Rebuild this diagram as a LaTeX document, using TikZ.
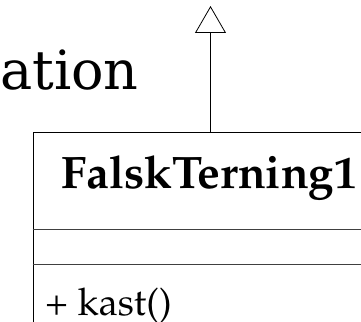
\documentclass[tikz,border=0pt]{standalone}
\usepackage{fontspec}
\usepackage[T1,TU]{fontenc}
\usepackage{xcolor}
\usetikzlibrary{positioning,arrows.meta}
\newfontfamily\labelfont{DejaVu Serif}
\newcommand\umlfont{\fontencoding{T1}\fontfamily{ppl}\selectfont}

\begin{document}
\begin{tikzpicture}[x=1pt,y=1pt,
  classbox/.style={draw=black, line width=0.8pt, rectangle, inner sep=0pt, anchor=north west},
  compline/.style={draw=black!75, line width=0.6pt},
  inherit/.style={draw=black, line width=0.8pt, -{Triangle[open,width=31pt,length=27pt]}}]
\useasboundingbox (0,0) rectangle (361,-321);
\clip (0,0) rectangle (361,-321);
% relation label (cut off)
\node[inner sep=0pt, anchor=base west, font=\labelfont\fontsize{54}{60}\selectfont] (relasjon) at (0,-89) {ation};
% the class
\node[classbox, minimum width=400pt, minimum height=260pt] (terning) at (32.5,-132) {};
\node[inner sep=0pt, anchor=base west, font=\umlfont\fontseries{b}\fontsize{45.5}{52}\selectfont] (navn) at (61,-188) {FalskTerning1};
\coordinate (skille1) at (32.5,-229);
\coordinate (skille2) at (32.5,-264);
\draw[compline] (skille1) -- ++(400,0);
\draw[compline] (skille2) -- ++(400,0);
\node[inner sep=0pt, anchor=base west, font=\umlfont\fontsize{38}{44}\selectfont] (kast) at (45,-315) {+ kast()};
% generalisation
\coordinate (topp) at (210.5,-6);
\draw[inherit] (terning.north -| topp) -- (topp);
\end{tikzpicture}
\end{document}
